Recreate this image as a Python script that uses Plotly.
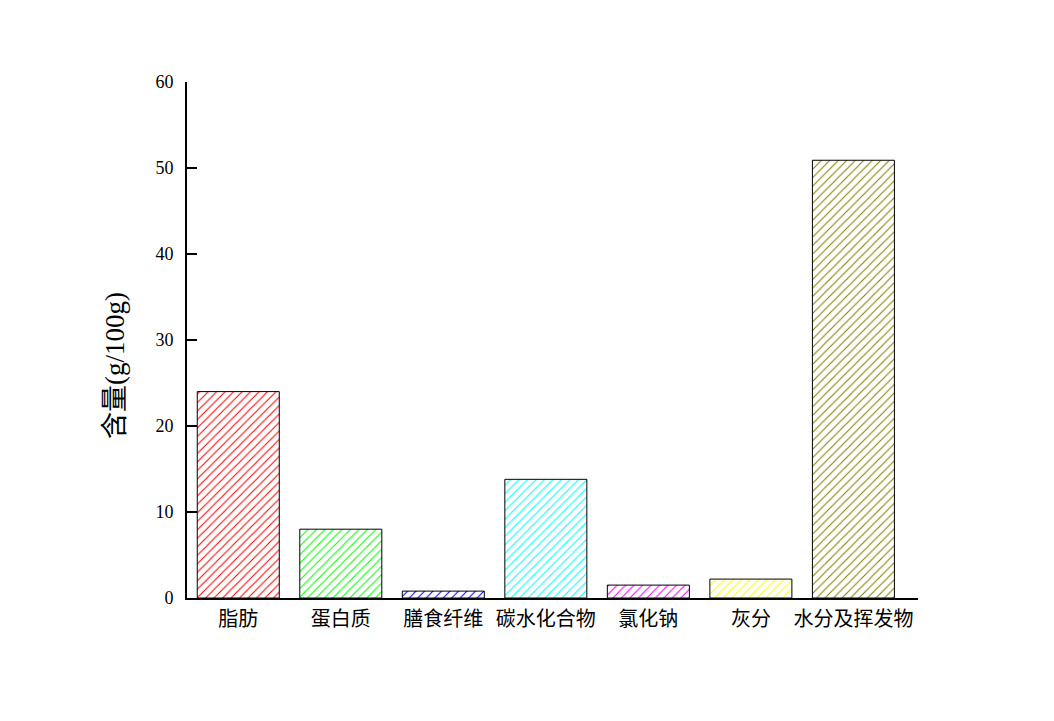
import plotly.graph_objects as go

categories = ["脂肪", "蛋白质", "膳食纤维", "碳水化合物", "氯化钠", "灰分", "水分及挥发物"]
values = [24.0, 8.0, 0.8, 13.8, 1.5, 2.2, 50.9]
colors = ["#FF0000", "#00FF00", "#0000FF", "#00FFFF", "#FF00FF", "#FFFF00", "#808000"]
y_ticks = [0, 10, 20, 30, 40, 50, 60]
y_title = "含量(g/100g)"

font_main = "Liberation Serif, Times New Roman, Noto Sans CJK SC, serif"

fig = go.Figure()
fig.add_trace(go.Bar(
    x=categories,
    y=values,
    marker=dict(
        color="white",
        line=dict(color="black", width=1),
        pattern=dict(shape="/", fgcolor=colors, bgcolor="white", size=6,
                     solidity=0.17, fillmode="overlay", fgopacity=1),
    ),
    width=0.8,
))

fig.update_layout(
    width=1054, height=721,
    margin=dict(l=179, r=144, t=74, b=131),
    paper_bgcolor="white", plot_bgcolor="white",
    showlegend=False,
    font=dict(family=font_main, color="black"),
    bargap=0.2,
)
fig.update_xaxes(
    range=[-0.5, 6.63],
    showline=True, linecolor="black", linewidth=2,
    ticks="", showgrid=False,
    tickfont=dict(size=20, family="Noto Sans CJK SC, serif"),
    ticklabelstandoff=2,
)
fig.update_yaxes(
    range=[0, 60],
    tickvals=y_ticks,
    showline=True, linecolor="black", linewidth=2,
    ticks="inside", ticklen=10, tickwidth=2, tickcolor="black",
    showgrid=False, zeroline=False,
    tickfont=dict(size=18, family=font_main),
    ticklabelstandoff=8,
)
fig.add_annotation(
    text=y_title, textangle=-90, showarrow=False,
    xref="paper", yref="paper", x=-0.0985, y=0.4516,
    xanchor="center", yanchor="middle",
    font=dict(size=27, family=font_main, color="black"),
)

fig.write_html("out.html")
